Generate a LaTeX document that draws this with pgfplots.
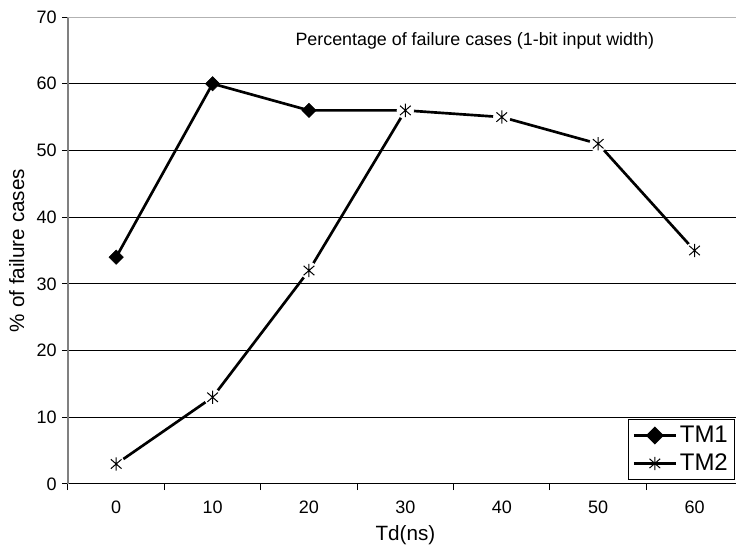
\documentclass[border=0pt]{standalone}
\usepackage{fontspec}
\setmainfont{Liberation Sans}
\usepackage{pgfplots}
\pgfplotsset{compat=1.18}
\pgfdeclareplotmark{xstar}{%
  \pgfpathmoveto{\pgfqpoint{0pt}{\pgfplotmarksize}}%
  \pgfpathlineto{\pgfqpoint{0pt}{-\pgfplotmarksize}}%
  \pgfpathmoveto{\pgfqpoint{.8\pgfplotmarksize}{.7\pgfplotmarksize}}%
  \pgfpathlineto{\pgfqpoint{-.8\pgfplotmarksize}{-.7\pgfplotmarksize}}%
  \pgfpathmoveto{\pgfqpoint{-.8\pgfplotmarksize}{.7\pgfplotmarksize}}%
  \pgfpathlineto{\pgfqpoint{.8\pgfplotmarksize}{-.7\pgfplotmarksize}}%
  \pgfusepathqstroke}
\begin{document}
\begin{tikzpicture}
\begin{axis}[
  name=ax, at={(0,0)}, anchor=south west, scale only axis,
  width=501pt, height=350.25pt,
  xmin=-0.5, xmax=6.43, ymin=0, ymax=70,
  axis x line*=bottom, axis y line*=left,
  x axis line style={draw=black, line width=0.75pt, -},
  y axis line style={draw=black!50, line width=1.1pt, -},
  tick align=outside, major tick length=4.5pt,
  tick style={black, line width=0.75pt},
  ytick={0,10,...,70},
  xtick={-0.5,0.5,...,5.5},
  xticklabels={0,10,20,30,40,50,60},
  xticklabel style={xshift=36.15pt, yshift=-5pt},
  yticklabel style={xshift=-0.5pt},
  ymajorgrids, grid style={black, line width=0.75pt},
  /pgf/number format/assume math mode=true,
  ticklabel style={font=\fontsize{13.5}{16}\selectfont},
  xlabel={Td(ns)}, ylabel={\% of failure cases},
  every axis x label/.style={at={(axis cs:3,0)}, anchor=center, yshift=-38.5pt, font=\fontsize{15.5}{18}\selectfont},
  every axis y label/.style={at={(axis description cs:0,0.5)}, anchor=center, xshift=-38.5pt, rotate=90, font=\fontsize{15.5}{18}\selectfont},
  legend style={at={(rel axis cs:0.9985,0.0086)}, anchor=south east,
    draw=black, line width=0.75pt, fill=white,
    font=\fontsize{18}{21}\selectfont, inner xsep=3pt, inner ysep=3pt,
    row sep=3pt, cells={anchor=west}},
  legend image code/.code={\draw[mark repeat=2,mark phase=2,#1] plot coordinates {(0pt,0pt) (15.75pt,0pt) (31.5pt,0pt)};},
  clip=false,
]
\draw[black!30, line width=0.75pt] (rel axis cs:0,1) -- (rel axis cs:1,1);
% TM1 line
\addplot[black, line width=2pt, forget plot] coordinates {(0,34) (1,60) (2,56) (3,56)};
\addplot[black, only marks, mark=square*, mark size=3.8pt, mark options={rotate=45}, forget plot] coordinates {(0,34) (1,60) (2,56)};
% TM2 line
\addplot[black, line width=2pt, forget plot] coordinates {(0,3) (1,13) (2,32) (3,56) (4,55) (5,51) (6,35)};
\addplot[white, only marks, mark=*, mark size=6.3pt, forget plot] coordinates {(0,3) (1,13) (2,32) (3,56) (4,55) (5,51) (6,35)};
\addplot[black, only marks, mark=xstar, mark size=5pt, line width=0.75pt, forget plot] coordinates {(0,3) (1,13) (2,32) (3,56) (4,55) (5,51) (6,35)};
\addlegendimage{black, line width=2pt, mark=square*, mark size=3.8pt, mark options={rotate=45}}
\addlegendentry{TM1}
\addlegendimage{black, line width=2pt, mark=xstar, mark size=5pt, mark options={line width=0.75pt}}
\addlegendentry{TM2}
\node[font=\fontsize{13.4}{16}\selectfont] at (axis cs:3.72,66.4) {Percentage of failure cases (1-bit input width)};
\end{axis}
\pgfresetboundingbox
\path[use as bounding box] (-51pt,-46.5pt) rectangle (501pt,363pt);
\end{tikzpicture}
\end{document}
